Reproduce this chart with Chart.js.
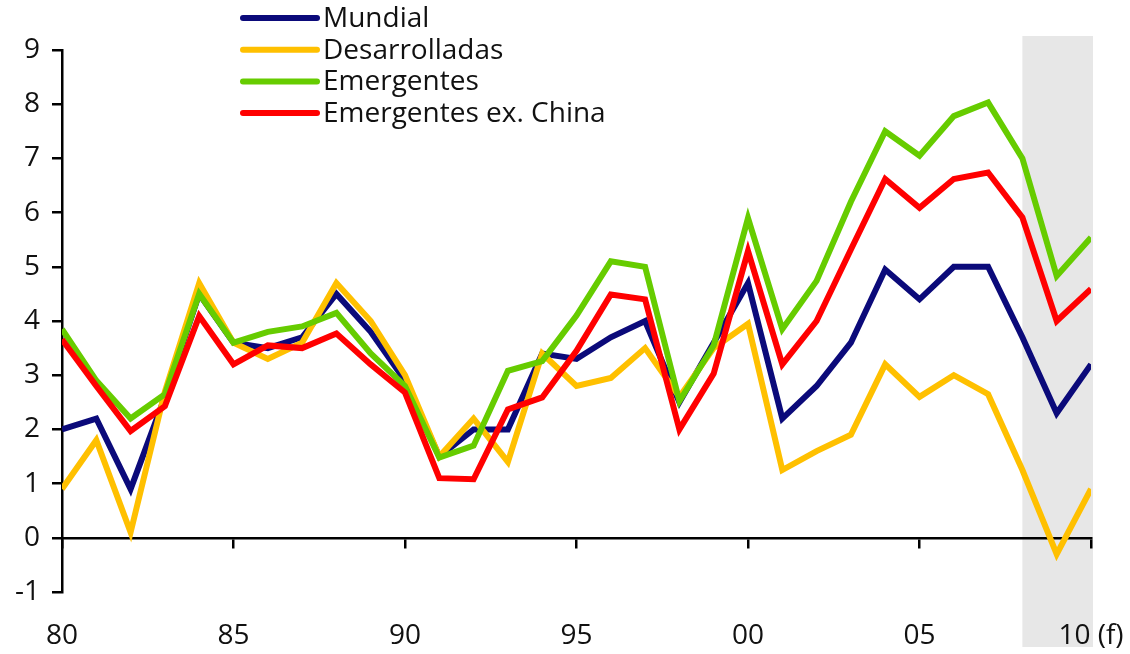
<!DOCTYPE html>
<html>
<head>
<meta charset="utf-8">
<title>Crecimiento del PIB</title>
<script src="https://cdn.jsdelivr.net/npm/chart.js@4.4.1/dist/chart.umd.min.js"></script>
<style>
  html, body { margin: 0; padding: 0; background: #ffffff; }
  #wrap { width: 1130px; height: 654px; }
</style>
</head>
<body>
<div id="wrap"><canvas id="chart" width="1130" height="654"></canvas></div>
<script>
// Annual growth (%), 1980-2010; 2009-2010 are forecasts
const years = [1980, 1981, 1982, 1983, 1984, 1985, 1986, 1987, 1988, 1989,
               1990, 1991, 1992, 1993, 1994, 1995, 1996, 1997, 1998, 1999,
               2000, 2001, 2002, 2003, 2004, 2005, 2006, 2007, 2008, 2009, 2010];

const mundial = [2.0, 2.2, 0.9, 2.6, 4.5, 3.6, 3.5, 3.7, 4.5, 3.8,
                 2.9, 1.5, 2.0, 2.0, 3.4, 3.3, 3.7, 4.0, 2.5, 3.6,
                 4.7, 2.2, 2.8, 3.6, 4.95, 4.4, 5.0, 5.0, 3.7, 2.3, 3.2];

const desarrolladas = [0.9, 1.8, 0.1, 2.7, 4.7, 3.6, 3.3, 3.6, 4.7, 4.0,
                       3.0, 1.5, 2.2, 1.4, 3.4, 2.8, 2.95, 3.5, 2.6, 3.5,
                       3.95, 1.25, 1.6, 1.9, 3.2, 2.6, 3.0, 2.65, 1.25, -0.3, 0.9];

const emergentes = [3.85, 2.9, 2.2, 2.65, 4.5, 3.6, 3.8, 3.9, 4.15, 3.4,
                    2.8, 1.48, 1.7, 3.08, 3.26, 4.1, 5.1, 5.0, 2.52, 3.55,
                    5.9, 3.85, 4.74, 6.2, 7.5, 7.05, 7.78, 8.03, 7.0, 4.83, 5.54];

const emergentesExChina = [3.66, 2.8, 1.97, 2.43, 4.09, 3.2, 3.55, 3.5, 3.77, 3.2,
                           2.68, 1.1, 1.08, 2.37, 2.59, 3.45, 4.49, 4.4, 2.0, 3.03,
                           5.29, 3.2, 4.0, 5.32, 6.62, 6.09, 6.62, 6.74, 5.91, 4.0, 4.59];

const seriesNames = ['Mundial', 'Desarrolladas', 'Emergentes', 'Emergentes ex. China'];
const xTickLabels = { 1980: '80', 1985: '85', 1990: '90', 1995: '95', 2000: '00', 2005: '05', 2010: '10 (f)' };
const yTicks = [-1, 0, 1, 2, 3, 4, 5, 6, 7, 8, 9];
const forecastStart = 2008;
const forecastEnd = 2010;

const FONT = '"Open Sans", "Noto Sans", sans-serif';
const FONT_SIZE = 28;
const TEXT = '#111111';

function toPoints(values) {
  return values.map((v, i) => ({ x: years[i], y: v }));
}

// Grey band marking the forecast period, painted underneath axes and lines
const forecastBand = {
  id: 'forecastBand',
  beforeDraw(chart) {
    const { ctx, chartArea, scales } = chart;
    const x0 = scales.x.getPixelForValue(forecastStart);
    const x1 = scales.x.getPixelForValue(forecastEnd) + 2;
    ctx.save();
    ctx.fillStyle = '#e7e7e7';
    ctx.fillRect(x0, chartArea.top - 14, x1 - x0, chartArea.bottom - chartArea.top + 69);
    ctx.restore();
  }
};

// Legend stacked in the upper-left part of the plot
const seriesLegend = {
  id: 'seriesLegend',
  afterDraw(chart) {
    const { ctx } = chart;
    const lineX0 = 243, lineX1 = 317, textX = 323, firstRow = 18, rowGap = 31.7;
    ctx.save();
    ctx.font = FONT_SIZE + 'px ' + FONT;
    ctx.textBaseline = 'middle';
    ctx.textAlign = 'left';
    chart.data.datasets
      .slice()
      .sort((a, b) => a.legendIndex - b.legendIndex)
      .forEach((ds, i) => {
        const y = firstRow + i * rowGap;
        ctx.strokeStyle = ds.borderColor;
        ctx.lineWidth = 6;
        ctx.lineCap = 'round';
        ctx.beginPath();
        ctx.moveTo(lineX0, y);
        ctx.lineTo(lineX1, y);
        ctx.stroke();
        ctx.fillStyle = TEXT;
        ctx.fillText(ds.label, textX, y + 1);
      });
    ctx.restore();
  }
};

const lineStyle = {
  pointRadius: 0,
  pointHoverRadius: 0,
  borderWidth: 6,
  tension: 0,
  fill: false,
  borderJoinStyle: 'miter',
  xAxisID: 'x',
  yAxisID: 'y'
};

new Chart(document.getElementById('chart'), {
  type: 'line',
  data: {
    datasets: [
      { ...lineStyle, label: seriesNames[0], legendIndex: 0, order: 3, data: toPoints(mundial), borderColor: '#0b0a7a' },
      { ...lineStyle, label: seriesNames[1], legendIndex: 1, order: 2, data: toPoints(desarrolladas), borderColor: '#ffc000' },
      { ...lineStyle, label: seriesNames[2], legendIndex: 2, order: 1, data: toPoints(emergentes), borderColor: '#66cc00' },
      { ...lineStyle, label: seriesNames[3], legendIndex: 3, order: 0, data: toPoints(emergentesExChina), borderColor: '#ff0000' }
    ]
  },
  options: {
    responsive: false,
    devicePixelRatio: 1,
    animation: false,
    events: [],
    layout: { padding: { top: 50, right: 39, left: 0, bottom: 0 } },
    plugins: {
      legend: { display: false },
      tooltip: { enabled: false }
    },
    scales: {
      y: {
        type: 'linear',
        position: 'left',
        min: -1,
        max: 9,
        afterBuildTicks: (scale) => { scale.ticks = yTicks.map(v => ({ value: v })); },
        afterFit: (scale) => { scale.width = 62; },
        ticks: {
          color: TEXT,
          font: { family: FONT, size: FONT_SIZE },
          padding: 12,
          callback: (v) => String(v)
        },
        grid: {
          drawOnChartArea: false,
          drawTicks: true,
          tickLength: 10,
          color: '#000000',
          lineWidth: 2.5
        },
        border: { display: true, color: '#000000', width: 2.5 }
      },
      x: {
        type: 'linear',
        position: { y: 0 },
        min: 1980,
        max: 2010,
        afterBuildTicks: (scale) => { scale.ticks = Object.keys(xTickLabels).map(k => ({ value: +k })); },
        ticks: { display: false },
        grid: {
          drawOnChartArea: false,
          drawTicks: true,
          tickLength: 9,
          color: '#000000',
          lineWidth: 2.5
        },
        border: { display: true, color: '#000000', width: 2.5 }
      },
      x2: {
        type: 'linear',
        position: 'bottom',
        min: 1980,
        max: 2010,
        afterBuildTicks: (scale) => { scale.ticks = Object.keys(xTickLabels).map(k => ({ value: +k })); },
        afterFit: (scale) => {
          scale.height = 62;
          scale.paddingLeft = 0;
          scale.paddingRight = 0;
        },
        ticks: {
          color: TEXT,
          font: { family: FONT, size: FONT_SIZE },
          padding: 27,
          maxRotation: 0,
          autoSkip: false,
          callback: (v) => xTickLabels[v]
        },
        grid: { display: false, drawTicks: false },
        border: { display: false }
      }
    }
  },
  plugins: [forecastBand, seriesLegend]
});
</script>
</body>
</html>
